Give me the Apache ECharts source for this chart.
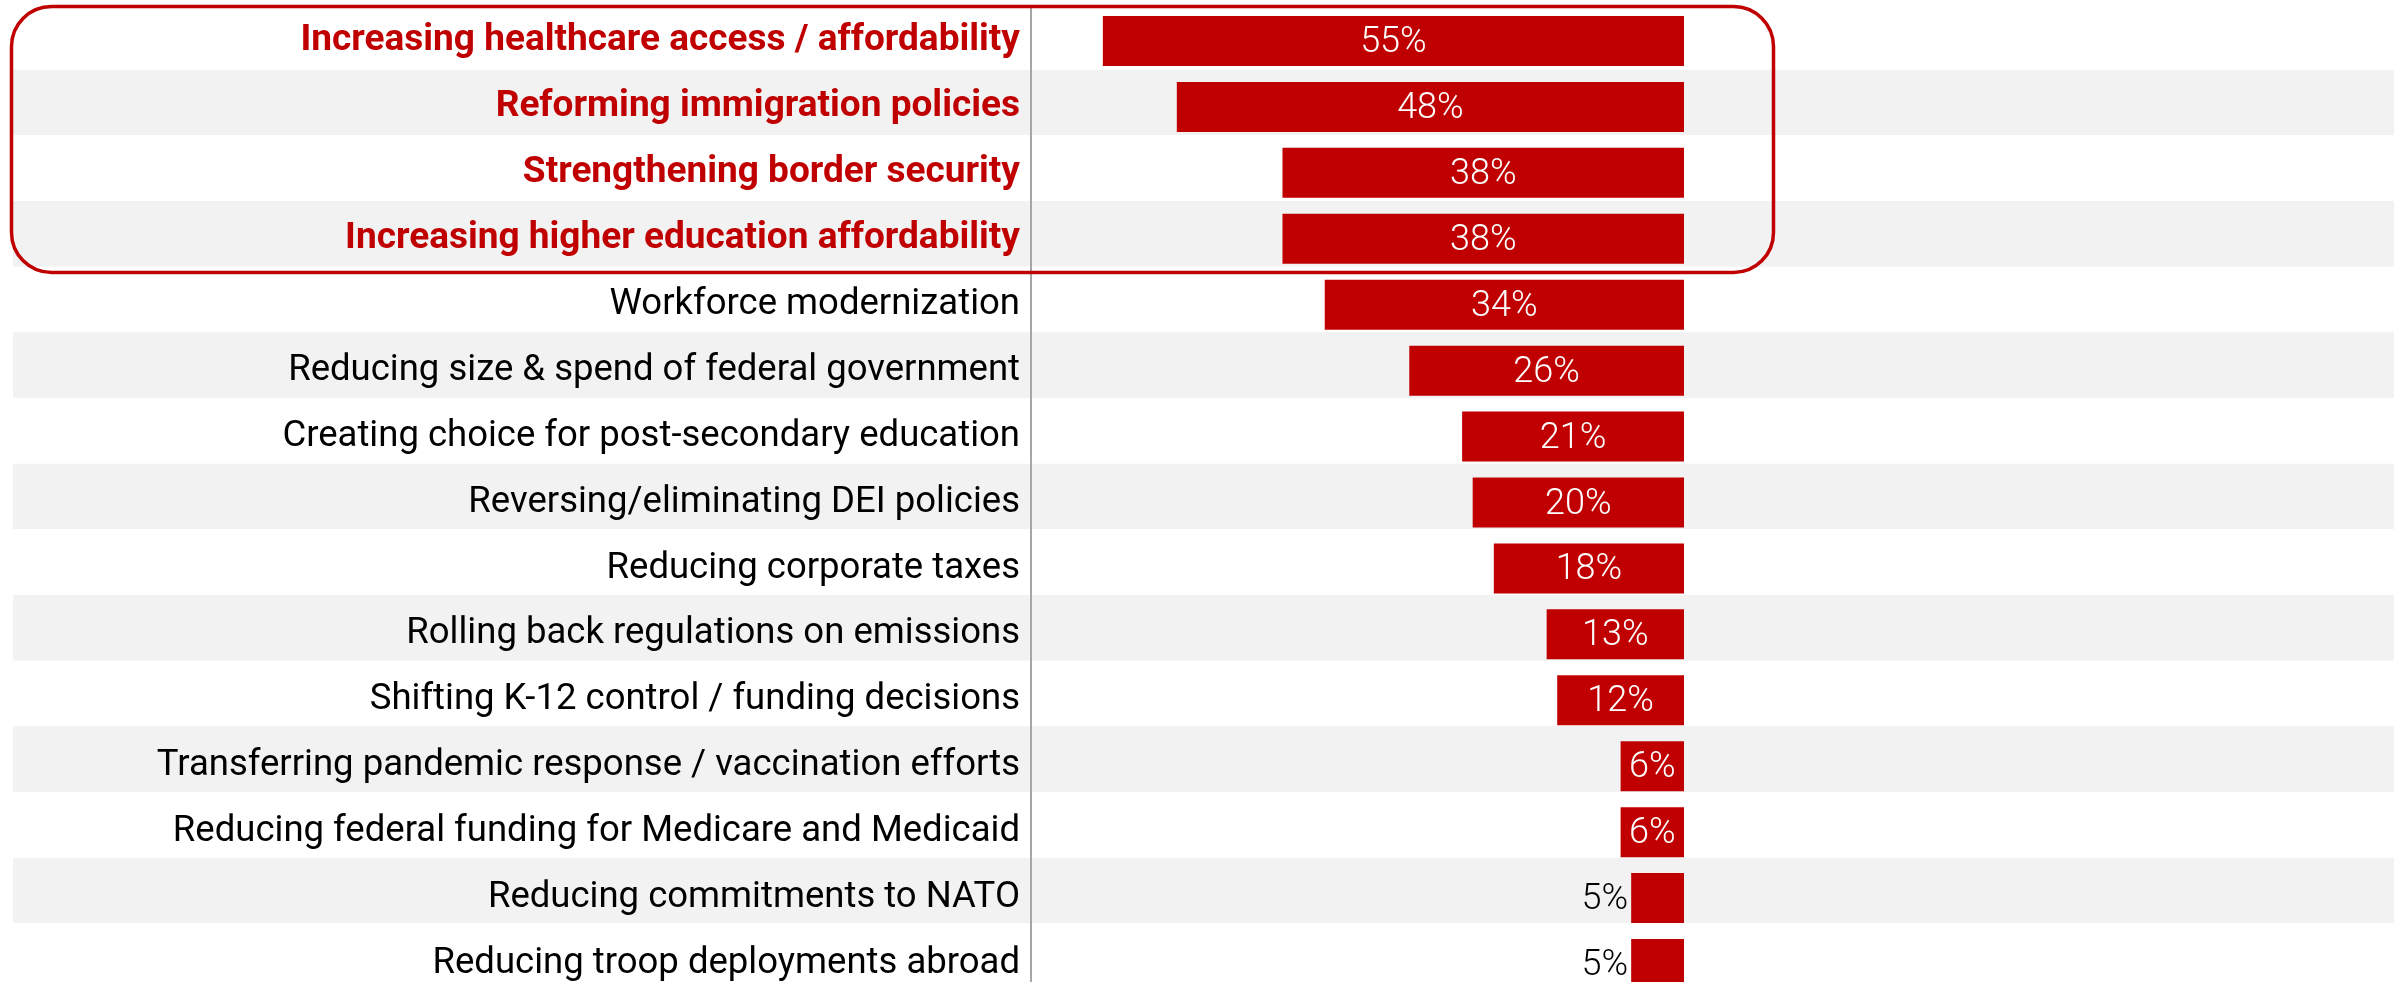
<!DOCTYPE html>
<html>
<head>
<meta charset="utf-8">
<script src="https://cdn.jsdelivr.net/npm/echarts@6/dist/echarts.min.js"></script>
<style>
html,body{margin:0;padding:0;background:#fff;}
#chart{width:2407px;height:982px;}
</style>
</head>
<body>
<div id="chart"></div>
<script>
const categories = [
  "Increasing healthcare access / affordability",
  "Reforming immigration policies",
  "Strengthening border security",
  "Increasing higher education affordability",
  "Workforce modernization",
  "Reducing size & spend of federal government",
  "Creating choice for post-secondary education",
  "Reversing/eliminating DEI policies",
  "Reducing corporate taxes",
  "Rolling back regulations on emissions",
  "Shifting K-12 control / funding decisions",
  "Transferring pandemic response / vaccination efforts",
  "Reducing federal funding for Medicare and Medicaid",
  "Reducing commitments to NATO",
  "Reducing troop deployments abroad"
];
const values = [55, 48, 38, 38, 34, 26, 21, 20, 18, 13, 12, 6, 6, 5, 5];
const highlightedCount = 4;

const RED = '#C00000';
const chart = echarts.init(document.getElementById('chart'));

const barData = values.map(v => v <= 5
  ? { value: v, label: { position: 'left', distance: 3, color: '#000' } }
  : v);

chart.setOption({
  animation: false,
  backgroundColor: '#fff',
  grid: [
    { left: 13, right: 13, top: 4, height: 985, outerBoundsMode: 'none', containLabel: false },
    { left: 1031, right: 723, top: 8, height: 989, outerBoundsMode: 'none', containLabel: false }
  ],
  xAxis: [
    { gridIndex: 0, type: 'value', show: false, min: 0, max: 1 },
    { gridIndex: 1, type: 'value', inverse: true, min: 0, max: 61.8, show: false }
  ],
  yAxis: [
    {
      gridIndex: 0, type: 'category', inverse: true, data: categories, z: -5,
      axisLine: { show: false }, axisTick: { show: false }, axisLabel: { show: false },
      splitLine: { show: false },
      splitArea: { show: true, areaStyle: { color: ['#ffffff', '#F2F2F2'] } }
    },
    {
      gridIndex: 1, type: 'category', inverse: true, data: categories, position: 'left',
      axisLine: { show: true, onZero: false, lineStyle: { color: '#A6A6A6', width: 2 } },
      axisTick: { show: false },
      axisLabel: {
        margin: 11,
        fontFamily: 'Roboto',
        fontSize: 36.5,
        color: '#000',
        formatter: (val, idx) => idx < highlightedCount ? '{h|' + val + '}' : val,
        rich: {
          h: { fontFamily: '"Liberation Sans Narrow", Roboto', fontWeight: 'bold', fontSize: 37, color: RED }
        }
      }
    }
  ],
  series: [{
    type: 'bar',
    xAxisIndex: 1,
    yAxisIndex: 1,
    data: barData,
    barWidth: 50,
    itemStyle: { color: RED },
    label: {
      show: true,
      position: 'inside',
      offset: [0, 2],
      color: '#fff',
      fontFamily: 'Roboto',
      fontWeight: 300,
      fontSize: 36,
      formatter: p => p.value + '%'
    }
  }],
  graphic: [{
    type: 'rect',
    z: 100,
    shape: { x: 11.5, y: 6.5, width: 1762, height: 266, r: 40 },
    style: { fill: 'none', stroke: RED, lineWidth: 3.5 }
  }]
});
</script>
</body>
</html>
